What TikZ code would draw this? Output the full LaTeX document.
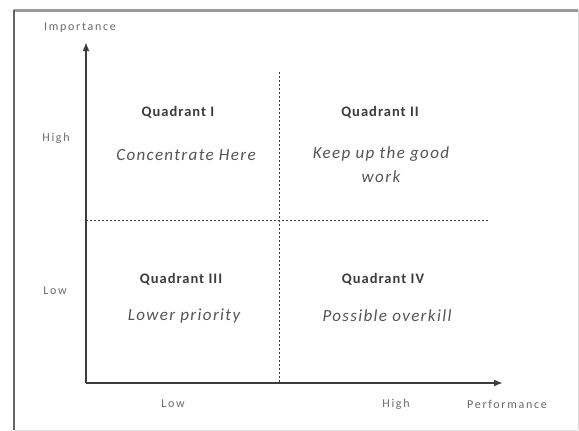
\documentclass[tikz,border=0pt]{standalone}
\usepackage{fontspec}
\setmainfont{Carlito}
\usetikzlibrary{arrows.meta}

\definecolor{framegray}{HTML}{9A9A9A}
\definecolor{axisgray}{HTML}{3C3C3C}
\definecolor{labelgray}{HTML}{6A6A6A}
\definecolor{textgray}{HTML}{555555}

\tikzset{
    axis/.style={line width=2pt, draw=axisgray, -{Latex[length=9pt,width=7pt]}},
    divider/.style={line width=1pt, draw=axisgray, dash pattern=on 2pt off 2pt},
    axislabel/.style={font=\fontsize{12}{14}\selectfont\addfontfeatures{LetterSpace=14}, text=labelgray, inner sep=0pt},
    quadname/.style={font=\fontsize{14.5}{16}\selectfont\bfseries\addfontfeatures{LetterSpace=7}, text=axisgray, inner sep=0pt},
    quaddesc/.style={font=\fontsize{17}{24}\selectfont\itshape\addfontfeatures{LetterSpace=8}, text=textgray, inner sep=0pt, align=center},
}

\begin{document}
\begin{tikzpicture}[x=1pt,y=-1pt]
    \useasboundingbox (0,0) rectangle (579,431);
    % frame
    \fill[white] (14,10) rectangle (578,430);
    \draw[framegray, line width=3pt] (14,10) -- (578,10);
    \draw[axisgray!80, line width=1.5pt] (14,10) -- (14,430);
    \draw[framegray!40, line width=1pt] (578,10) -- (578,430);
    \draw[framegray!30, line width=0.8pt] (14,430) -- (578,430);

    % axes
    \coordinate (origin) at (86,383);
    \coordinate (ytip) at (86,42);
    \coordinate (xtip) at (503,383);
    \draw[axis] (origin) -- (ytip);
    \draw[axis] (origin) -- (xtip);

    % quadrant dividers
    \coordinate (vtop) at (279,72);
    \coordinate (vbot) at (279,383);
    \coordinate (hleft) at (86,220);
    \coordinate (hright) at (488,220);
    \draw[divider] (vtop) -- (vbot);
    \draw[divider] (hleft) -- (hright);

    % axis labels
    \node[axislabel] (importance) at (80,28) {Importance};
    \node[axislabel] (yhigh) at (56,138) {High};
    \node[axislabel] (ylow) at (55,291) {Low};
    \node[axislabel] (xlow) at (173,404) {Low};
    \node[axislabel] (xhigh) at (396,404) {High};
    \node[axislabel] (performance) at (507,404) {Performance};

    % quadrants
    \node[quadname] (q1) at (178,112) {Quadrant I};
    \node[quaddesc] (q1text) at (186,155) {Concentrate Here};
    \node[quadname] (q2) at (380,112) {Quadrant II};
    \node[quaddesc] (q2text) at (381,165) {Keep up the good\\work};
    \node[quadname] (q3) at (181,279) {Quadrant III};
    \node[quaddesc] (q3text) at (184,316) {Lower priority};
    \node[quadname] (q4) at (383,279) {Quadrant IV};
    \node[quaddesc] (q4text) at (387,316) {Possible overkill};
\end{tikzpicture}
\end{document}
